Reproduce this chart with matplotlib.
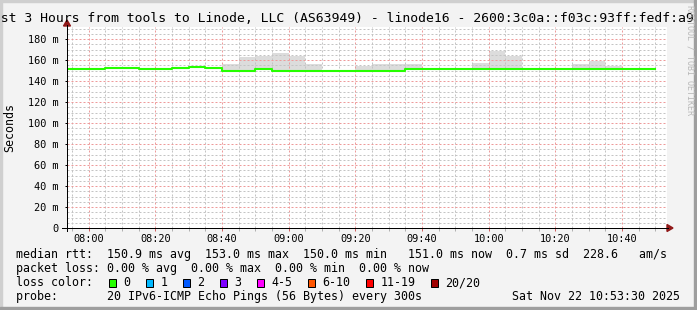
import matplotlib
matplotlib.use("Agg")
import matplotlib.pyplot as plt
from matplotlib.lines import Line2D
from matplotlib.patches import Rectangle, Polygon
from matplotlib.ticker import MultipleLocator, FixedLocator

W, H = 697, 310
DPI = 100

# 5 minute bins (start time of each bin)
bin_start = ["07:50", "07:55", "08:00", "08:05", "08:10", "08:15", "08:20", "08:25",
             "08:30", "08:35", "08:40", "08:45", "08:50", "08:55", "09:00", "09:05",
             "09:10", "09:15", "09:20", "09:25", "09:30", "09:35", "09:40", "09:45",
             "09:50", "09:55", "10:00", "10:05", "10:10", "10:15", "10:20", "10:25",
             "10:30", "10:35", "10:40", "10:45"]
data_end = "10:50"
median_ms = [151, 151, 151, 152, 152, 151, 151, 152,
             153, 152, 150, 150, 151, 150, 150, 150,
             150, 150, 150, 150, 150, 151, 151, 151,
             151, 151, 151, 151, 151, 151, 151, 151,
             151, 151, 151, 151]
# top of the grey smoke (None = nothing visible above the median)
smoke_top_ms = [None, None, None, None, None, None, None, None,
                None, None, 156.0, 162.5, 164.0, 166.5, 164.0, 156.0,
                None, None, 154.5, 156.5, 156.5, 156.5, None, None,
                None, 157.5, 169.0, 164.0, None, None, None, 156.5,
                159.5, 154.5, None, None]

x_tick_labels = ["08:00", "08:20", "08:40", "09:00", "09:20", "09:40", "10:00", "10:20", "10:40"]
y_ticks = [0, 20, 40, 60, 80, 100, 120, 140, 160, 180]
y_tick_labels = ["0", "20 m", "40 m", "60 m", "80 m", "100 m", "120 m", "140 m", "160 m", "180 m"]

graph_end = "10:53:30"
span_min = 180

rtt_avg, rtt_max, rtt_min, rtt_now, rtt_sd, am_s = 150.9, 153.0, 150.0, 151.0, 0.7, 228.6
loss_avg, loss_max, loss_min, loss_now = 0.00, 0.00, 0.00, 0.00

loss_labels = ["0", "1", "2", "3", "4-5", "6-10", "11-19", "20/20"]
loss_colors = ["#26ff00", "#00b8ff", "#0059ff", "#7e00ff", "#ff00ff", "#ff5500", "#ff0000", "#a00000"]

title = "Last 3 Hours from tools to Linode, LLC (AS63949) - linode16 - 2600:3c0a::f03c:93ff:fedf:a9"
probe = "20 IPv6-ICMP Echo Pings (56 Bytes) every 300s"
stamp = "Sat Nov 22 10:53:30 2025"


def to_min(s):
    parts = [float(p) for p in s.split(":")]
    return parts[0] * 60 + parts[1] + (parts[2] / 60 if len(parts) > 2 else 0)


def fx(px):
    return px / W


def fy(py):
    return 1 - py / H


MONO = "DejaVu Sans Mono"
plt.rcParams["font.family"] = MONO

fig = plt.figure(figsize=(W / DPI, H / DPI), dpi=DPI, facecolor="#f3f3f3")

# 3d-ish frame
fig.patches.append(Rectangle((0, 0), fx(2), 1, transform=fig.transFigure, color="#cfcfcf", zorder=0))
fig.patches.append(Rectangle((0, fy(2)), 1, 2 / H, transform=fig.transFigure, color="#cfcfcf", zorder=0))
fig.patches.append(Rectangle((fx(694), 0), 3 / W, 1, transform=fig.transFigure, color="#9e9e9e", zorder=0))
fig.patches.append(Rectangle((0, 0), 1, 3 / H, transform=fig.transFigure, color="#9e9e9e", zorder=0))

ax = fig.add_axes([fx(67), fy(228), 600 / W, (228 - 27) / H])
ax.set_facecolor("white")

x0 = to_min(graph_end) - span_min
x1 = to_min(graph_end)
ax.set_xlim(x0, x1)
ax.set_ylim(0, (228 - 27) / 1.05)

# step data
xs = [to_min(t) for t in bin_start] + [to_min(data_end)]
med = median_ms + [median_ms[-1]]
top = [m if s is None else s for s, m in zip(smoke_top_ms, median_ms)]
top = top + [top[-1]]

ax.fill_between(xs, med, top, step="post", color="#dcdcdc", lw=0, zorder=1)
ax.step(xs, med, where="post", color="#26ff00", lw=1.5, zorder=3)

# grid
ax.set_axisbelow(False)
ax.xaxis.set_major_locator(FixedLocator([to_min(t) for t in x_tick_labels]))
ax.set_xticklabels(x_tick_labels)
ax.xaxis.set_minor_locator(MultipleLocator(5))
ax.set_yticks(y_ticks)
ax.set_yticklabels(y_tick_labels)
ax.yaxis.set_minor_locator(MultipleLocator(5))
ax.grid(which="major", color="#ee9a9a", lw=0.72, ls=(0, (2, 2)), zorder=2)
ax.grid(which="minor", color="#c4c4c4", lw=0.72, ls=(0, (2, 2)), zorder=2)

for s in ax.spines.values():
    s.set_visible(False)

ax.tick_params(axis="both", which="both", labelsize=7.35, colors="black")
ax.tick_params(axis="x", which="major", length=1.8, width=0.72, color="#d06060", pad=2.3)
ax.tick_params(axis="x", which="minor", length=1.8, width=0.72, color="#b0b0b0")
ax.tick_params(axis="y", which="major", length=1.5, width=0.72, color="black", pad=4.3)
ax.tick_params(axis="y", which="minor", length=0)

# axis lines with arrows
fig.add_artist(Line2D([fx(67), fx(67)], [fy(231), fy(25)], color="black", lw=0.72))
fig.add_artist(Line2D([fx(62), fx(668)], [fy(228), fy(228)], color="black", lw=0.72))
fig.add_artist(Polygon([(fx(63.5), fy(26)), (fx(70.5), fy(26)), (fx(67), fy(20))],
                       closed=True, color="#901818", transform=fig.transFigure))
fig.add_artist(Polygon([(fx(667), fy(224.5)), (fx(667), fy(231.5)), (fx(673), fy(228))],
                       closed=True, color="#901818", transform=fig.transFigure))

# texts
fig.text(fx(-14.8), fy(22), title, fontsize=9.45, ha="left", va="baseline")
fig.text(fx(10), fy(127), "Seconds", fontsize=8.4, rotation=90, ha="center", va="center")
fig.text(fx(690), fy(5), "RRDTOOL / TOBI OETIKER", fontsize=6, rotation=270,
         ha="center", va="top", color="#b8b8b8")

CW = 7.03
row1 = (f"median rtt:  {rtt_avg:.1f} ms avg  {rtt_max:.1f} ms max  {rtt_min:.1f} ms min   "
        f"{rtt_now:.1f} ms now  {rtt_sd:.1f} ms sd  {am_s:.1f}   am/s")
row2 = (f"packet loss: {loss_avg:.2f} % avg  {loss_max:.2f} % max  "
        f"{loss_min:.2f} % min  {loss_now:.2f} % now")
fig.text(fx(16), fy(258.3), row1, fontsize=8.4, ha="left", va="baseline")
fig.text(fx(16), fy(272.3), row2, fontsize=8.4, ha="left", va="baseline")
fig.text(fx(16), fy(286.3), "loss color:", fontsize=8.4, ha="left", va="baseline")
bx = 108.7
for lab, col in zip(loss_labels, loss_colors):
    fig.patches.append(Rectangle((fx(bx), fy(286.5)), 7.5 / W, 8 / H, transform=fig.transFigure,
                                 facecolor=col, edgecolor="black", lw=0.72))
    fig.text(fx(bx + 14.6), fy(286.3), lab, fontsize=8.4, ha="left", va="baseline")
    bx += (len(lab) + 4.26) * CW
fig.text(fx(16), fy(300), "probe:       " + probe, fontsize=8.4, ha="left", va="baseline")
fig.text(fx(680), fy(300), stamp, fontsize=8.4, ha="right", va="baseline")

fig.savefig("out.png", dpi=DPI, facecolor=fig.get_facecolor())
